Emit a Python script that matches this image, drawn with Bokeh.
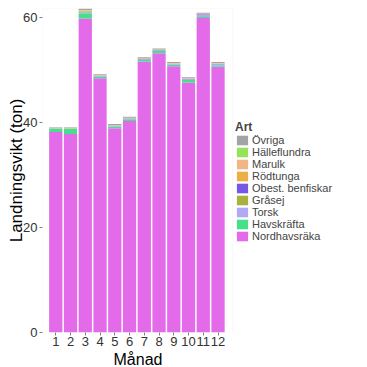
from bokeh.plotting import figure
from bokeh.models import (ColumnDataSource, Legend, LegendItem, FixedTicker, Range1d,
                          BoxAnnotation, Title)
from bokeh.embed import file_html
from bokeh.resources import INLINE

months = [1, 2, 3, 4, 5, 6, 7, 8, 9, 10, 11, 12]
month_labels = ["1", "2", "3", "4", "5", "6", "7", "8", "9", "10", "11", "12"]
y_ticks = [0, 20, 40, 60]

# stacking order bottom -> top
species = ["Nordhavsräka", "Havskräfta", "Torsk", "Gråsej", "Obest. benfiskar",
           "Rödtunga", "Marulk", "Hälleflundra", "Övriga"]
colors = ["#E36BEA", "#45E08A", "#B3A9F2", "#A9B23C", "#7559E6",
          "#EBAF45", "#F2B587", "#94E45A", "#A3A3A3"]

nordhavsraka = [38.2, 37.8, 59.8, 48.4, 38.9, 40.3, 51.6, 53.2, 50.7, 47.6, 59.9, 50.6]
havskrafta = [0.6, 1.0, 1.0, 0.3, 0.3, 0.3, 0.3, 0.4, 0.3, 0.5, 0.2, 0.3]
torsk = [0.1, 0.1, 0.2, 0.2, 0.2, 0.2, 0.2, 0.2, 0.2, 0.2, 0.4, 0.3]
grasej = [0.0, 0.0, 0.1, 0.0, 0.0, 0.0, 0.0, 0.0, 0.0, 0.0, 0.0, 0.0]
obest = [0.0, 0.0, 0.05, 0.0, 0.0, 0.0, 0.0, 0.0, 0.0, 0.0, 0.1, 0.0]
rodtunga = [0.05, 0.05, 0.1, 0.05, 0.05, 0.05, 0.05, 0.05, 0.05, 0.05, 0.05, 0.05]
marulk = [0.05, 0.05, 0.05, 0.05, 0.05, 0.05, 0.05, 0.05, 0.05, 0.05, 0.05, 0.05]
halleflundra = [0.0, 0.0, 0.1, 0.0, 0.0, 0.0, 0.0, 0.0, 0.0, 0.0, 0.0, 0.0]
ovriga = [0.1, 0.1, 0.3, 0.2, 0.2, 0.2, 0.2, 0.2, 0.2, 0.2, 0.2, 0.2]

series = [nordhavsraka, havskrafta, torsk, grasej, obest, rodtunga, marulk, halleflundra, ovriga]

data = {"x": months}
for name, vals in zip(species, series):
    data[name] = vals
source = ColumnDataSource(data)

X0, X1, Y1 = 0.1, 13.0, 61.7

# frame extends over the legend area; the panel itself ends at X1
p = figure(width=367, height=367, output_backend="svg", toolbar_location=None,
           x_range=Range1d(X0, X0 + 325 / 14.75), y_range=Range1d(0, Y1),
           min_border_left=42, min_border_right=0, min_border_top=8, min_border_bottom=30)

renderers = p.vbar_stack(species, x="x", width=0.9, color=colors, source=source, line_color=None)

p.add_layout(BoxAnnotation(left=X0, right=X1, bottom=0, top=Y1, fill_alpha=0,
                           line_color="#E5E5E5", line_width=1))

p.xgrid.visible = False
p.ygrid.visible = False
p.outline_line_color = None
p.background_fill_color = "white"

for ax in (p.xaxis[0], p.yaxis[0]):
    ax.axis_line_color = None
    ax.major_tick_line_color = "#7F7F7F"
    ax.major_tick_in = 0
    ax.major_tick_out = 3
    ax.minor_tick_line_color = None
    ax.major_label_text_font = "Liberation Sans"
    ax.major_label_text_font_size = "13px"
    ax.major_label_text_color = "#333333"
    ax.axis_label_text_font = "Liberation Sans"
    ax.axis_label_text_font_size = "17px"
    ax.axis_label_text_font_style = "normal"
    ax.axis_label_text_color = "black"

p.xaxis.ticker = FixedTicker(ticks=months)
p.xaxis.major_label_overrides = {m: l for m, l in zip(months, month_labels)}
p.xaxis.major_label_standoff = 1

p.add_layout(Title(text="Månad", align="left", offset=71, standoff=0,
                   text_font="Liberation Sans", text_font_size="16px",
                   text_font_style="normal", text_color="black"), "below")

p.yaxis.ticker = FixedTicker(ticks=y_ticks)
p.yaxis.axis_label = "Landningsvikt (ton)"
p.yaxis.axis_label_standoff = -6
p.yaxis.major_label_standoff = 2

items = [LegendItem(label=name, renderers=[r]) for name, r in zip(species, renderers)]
items = items[::-1]
legend = Legend(items=items, location=(193, 90), title="Art",
                title_text_font="Liberation Sans", title_text_font_style="bold",
                title_text_font_size="12px", title_standoff=0,
                label_text_font="Liberation Sans", label_text_font_size="11px",
                label_height=11, glyph_height=12, glyph_width=14, spacing=0,
                padding=2, margin=0, label_standoff=3,
                border_line_color=None, background_fill_alpha=0)
p.add_layout(legend, "center")

open("out.html", "w").write(file_html(p, INLINE))
